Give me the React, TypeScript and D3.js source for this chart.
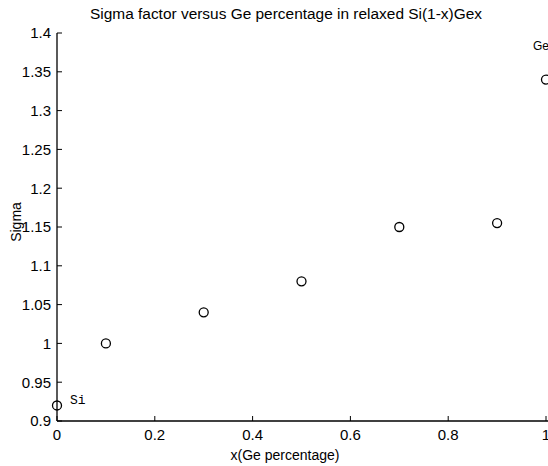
import React from "react";
import * as d3 from "d3";

const geFraction = [0, 0.1, 0.3, 0.5, 0.7, 0.9, 1.0];
const sigmaValues = [0.92, 1.0, 1.04, 1.08, 1.15, 1.155, 1.34];
const xTicks = [0, 0.2, 0.4, 0.6, 0.8, 1];
const yTicks = [0.9, 0.95, 1, 1.05, 1.1, 1.15, 1.2, 1.25, 1.3, 1.35, 1.4];
const pointLabels = [
  { x: 0, y: 0.92, text: "Si" },
  { x: 1.0, y: 1.34, text: "Ge" },
];

const W = 548;
const H = 466;
const left = 57;
const right = 546;
const top = 33;
const bottom = 421;

export default function App() {
  const x = d3.scaleLinear().domain([0, 1]).range([left, right]);
  const y = d3.scaleLinear().domain([0.9, 1.4]).range([bottom, top]);
  const font = "'Liberation Sans', Arial, sans-serif";
  const fmtY = (v: number) => String(+v.toFixed(2));
  const fmtX = (v: number) => String(+v.toFixed(1));

  return (
    <svg
      width={W}
      height={H}
      style={{ position: "absolute", left: 0, top: 0, background: "#fff" }}
    >
      <rect x={0} y={0} width={W} height={H} fill="#fff" />
      <text
        x={286}
        y={19}
        textAnchor="middle"
        fontFamily={font}
        fontSize={14}
        textLength={392}
        lengthAdjust="spacingAndGlyphs"
        fill="#000"
      >
        Sigma factor versus Ge percentage in relaxed Si(1-x)Gex
      </text>

      {/* axes */}
      <line x1={left} y1={top} x2={left} y2={bottom} stroke="#000" strokeWidth={1.3} />
      <line x1={left} y1={bottom} x2={W + 5} y2={bottom} stroke="#000" strokeWidth={1.3} />

      {yTicks.map((t) => (
        <g key={"y" + t}>
          <line x1={left} x2={left + 5} y1={y(t)} y2={y(t)} stroke="#000" strokeWidth={1} />
          <text
            x={left - 6}
            y={y(t)}
            dy="0.36em"
            textAnchor="end"
            fontFamily={font}
            fontSize={15}
            fill="#000"
          >
            {fmtY(t)}
          </text>
        </g>
      ))}

      {xTicks.map((t) => (
        <g key={"x" + t}>
          <line x1={x(t)} x2={x(t)} y1={bottom} y2={bottom - 5} stroke="#000" strokeWidth={1} />
          <text
            x={x(t)}
            y={bottom + 19}
            textAnchor="middle"
            fontFamily={font}
            fontSize={15}
            fill="#000"
          >
            {fmtX(t)}
          </text>
        </g>
      ))}

      <text
        x={285}
        y={460}
        textAnchor="middle"
        fontFamily={font}
        fontSize={14}
        fill="#000"
      >
        x(Ge percentage)
      </text>
      <text
        transform={`translate(21,222) rotate(-90)`}
        textAnchor="middle"
        fontFamily={font}
        fontSize={14}
        fill="#000"
      >
        Sigma
      </text>

      {geFraction.map((g, i) => (
        <circle
          key={"p" + i}
          cx={x(g)}
          cy={y(sigmaValues[i])}
          r={4.5}
          fill="none"
          stroke="#000"
          strokeWidth={1.3}
        />
      ))}

      <text
        x={x(pointLabels[0].x) + 13}
        y={y(pointLabels[0].y) - 1}
        fontFamily="'Liberation Mono', 'DejaVu Sans Mono', monospace"
        fontSize={13}
        fill="#000"
      >
        {pointLabels[0].text}
      </text>
      <text
        x={x(pointLabels[1].x) - 13}
        y={y(pointLabels[1].y) - 30}
        fontFamily={font}
        fontSize={12}
        fill="#000"
      >
        {pointLabels[1].text}
      </text>
    </svg>
  );
}
